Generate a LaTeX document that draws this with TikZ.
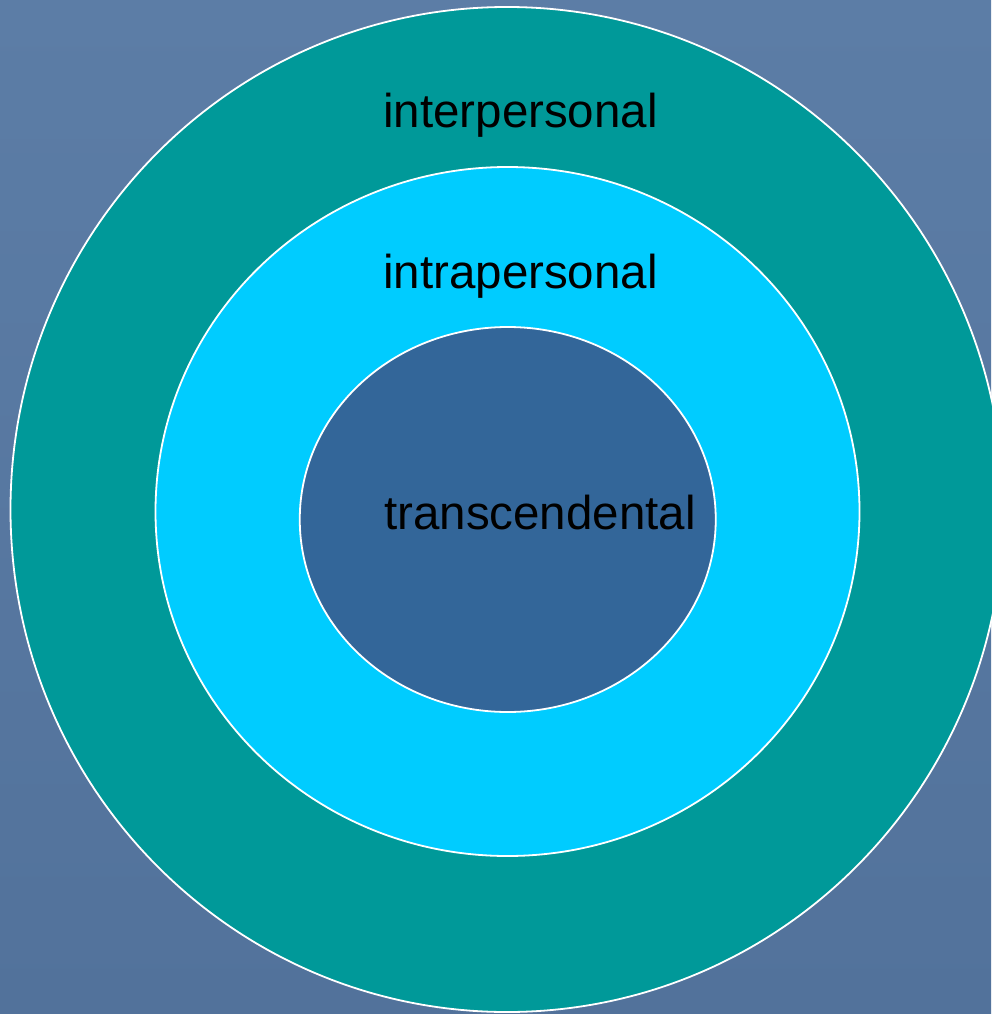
\documentclass[tikz,border=0pt]{standalone}
\usepackage{fontspec}
\setmainfont{Liberation Sans}
\definecolor{bgtop}{RGB}{92,125,166}
\definecolor{bgbot}{RGB}{82,114,155}
\definecolor{ringout}{RGB}{0,153,153}
\definecolor{ringmid}{RGB}{0,204,255}
\definecolor{core}{RGB}{51,102,153}
\begin{document}
\begin{tikzpicture}[x=1pt,y=-1pt,
  ring/.style={draw=white,line width=1.8pt},
  label/.style={anchor=base west,inner sep=0pt,text=black,
    font=\fontsize{47.5pt}{57pt}\selectfont}]
  % slide background
  \useasboundingbox (0,0) rectangle (991,1014);
  \shade[top color=bgtop,bottom color=bgbot] (0,0) rectangle (991,1014);
  % three nested rings
  \path[ring,fill=ringout] (507,509.5) ellipse [x radius=496.5,y radius=502.5];
  \path[ring,fill=ringmid] (507.5,511.5) ellipse [x radius=352,y radius=344.5];
  \path[ring,fill=core] (507.75,519.5) ellipse [x radius=208,y radius=192.5];
  % ring labels
  \node[label] (inter) at (383,128) {interpersonal};
  \node[label] (intra) at (383,288) {intrapersonal};
  \node[label] (trans) at (384,529) {transcendental};
\end{tikzpicture}
\end{document}
